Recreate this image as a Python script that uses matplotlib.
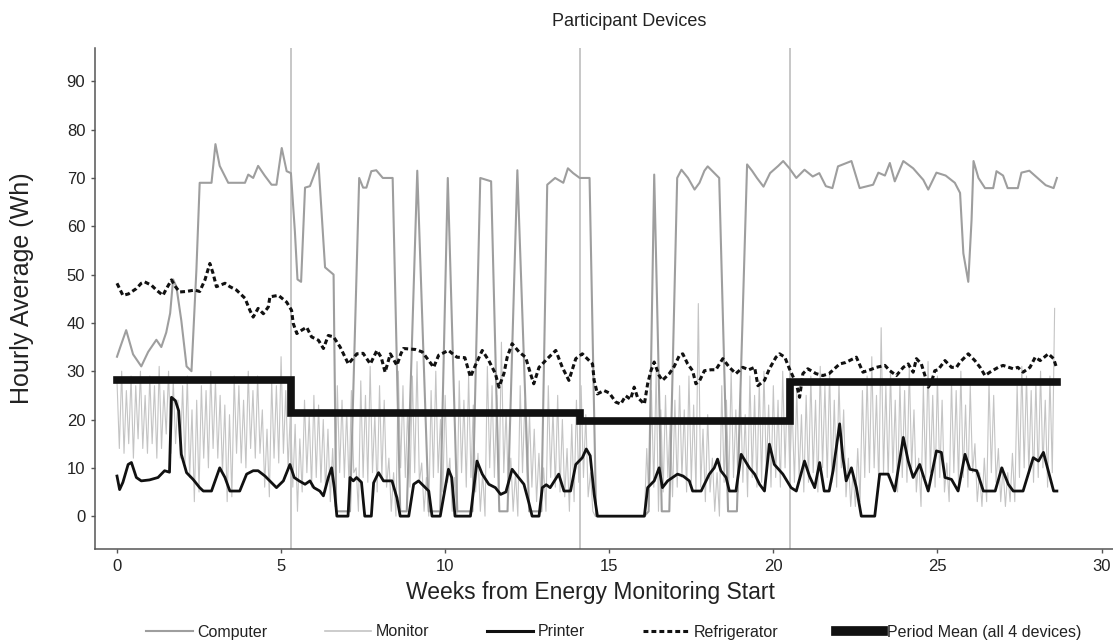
import numpy as np
import matplotlib
matplotlib.use("Agg")
import matplotlib.pyplot as plt
from matplotlib.lines import Line2D

plt.rcParams['font.family'] = ['Liberation Sans', 'DejaVu Sans']

# ---- data (weeks from start, hourly average Wh) ----
computer_weeks = [0.00, 0.10, 0.28, 0.49, 0.74, 0.95, 1.20, 1.35, 1.50, 1.62, 1.71, 1.81, 1.96, 2.12, 2.27,
                  2.42, 2.52, 2.88, 3.00, 3.13, 3.39, 3.90, 4.00, 4.15, 4.30, 4.50, 4.71, 4.86, 5.02, 5.17,
                  5.30, 5.42, 5.50, 5.61, 5.73, 5.88, 6.14, 6.34, 6.60, 6.68, 7.10, 7.38, 7.50, 7.60, 7.75,
                  7.90, 8.10, 8.40, 8.63, 8.83, 9.15, 9.50, 9.85, 10.08, 10.37, 10.83, 11.07, 11.40, 11.65,
                  11.90, 12.20, 12.56, 12.93, 13.11, 13.35, 13.60, 13.74, 13.90, 14.10, 14.40, 14.60, 16.07,
                  16.20, 16.37, 16.60, 16.83, 17.07, 17.20, 17.40, 17.60, 17.75, 17.90, 18.00, 18.35, 18.62,
                  18.89, 19.20, 19.35, 19.50, 19.70, 19.90, 20.15, 20.30, 20.49, 20.70, 20.95, 21.20, 21.40,
                  21.60, 21.80, 21.97, 22.38, 22.63, 23.04, 23.20, 23.40, 23.55, 23.70, 23.96, 24.26, 24.57,
                  24.72, 24.97, 25.25, 25.53, 25.69, 25.79, 25.94, 26.04, 26.10, 26.25, 26.45, 26.70, 26.80,
                  27.00, 27.14, 27.45, 27.56, 27.80, 28.05, 28.30, 28.54, 28.64]
computer_vals = [33, 35, 38.5, 33.5, 31, 34, 36.5, 35, 38, 42, 49, 47.5, 40.5, 31, 30,
                 51, 69, 69, 77, 72.5, 69, 69, 70.7, 70, 72.5, 70.5, 68.6, 68.6, 76.2, 71.4,
                 71, 59, 49, 48.5, 68, 68.3, 73, 51.5, 50, 1, 1, 70, 68, 68, 71.4,
                 71.6, 70, 70, 1, 1, 71.5, 1, 1, 70, 1, 1, 70, 69.3, 1,
                 1, 71.6, 1, 1, 68.6, 70, 69, 72, 71, 70, 70, 0, 0,
                 1, 70.7, 1, 1, 70, 71.7, 70, 67.6, 69, 71.5, 72.4, 70, 1,
                 1, 72.8, 71.5, 70, 68.2, 71, 72.5, 73.5, 72, 70, 71.7, 70.3, 71,
                 68.3, 67.9, 72.4, 73.5, 67.9, 68.6, 71.1, 70.5, 73.1, 69.3, 73.5, 72, 69.6,
                 67.6, 71.1, 70.5, 69, 66.9, 54.4, 48.5, 61.3, 73.5, 70, 67.9, 67.9, 71.4,
                 70.5, 67.9, 67.9, 71.1, 71.5, 70, 68.5, 67.9, 70]

# monitor: two readings per day, one row per week
monitor_rows = [
    [28, 14, 30, 13, 26, 15, 29, 12, 27, 16, 30, 14, 25, 13],
    [29, 15, 27, 12, 31, 14, 26, 17, 30, 13, 28, 15, 24, 12],
    [27, 11, 29, 8, 22, 3, 24, 5, 27, 12, 26, 10, 30, 14],
    [28, 12, 25, 9, 23, 3, 21, 4, 29, 13, 27, 11, 24, 10],
    [30, 14, 26, 12, 29, 13, 22, 6, 18, 4, 28, 12, 27, 11],
    [33, 13, 26, 10, 22, 6, 19, 1, 16, 5, 24, 9, 21, 6],
    [25, 8, 23, 7, 20, 5, 18, 3, 14, 2, 27, 9, 24, 8],
    [22, 6, 26, 9, 10, 1, 28, 8, 25, 7, 31, 9, 21, 5],
    [27, 8, 24, 6, 12, 1, 9, 0, 30, 10, 27, 8, 22, 6],
    [29, 9, 32, 7, 11, 1, 8, 0, 26, 8, 30, 9, 20, 5],
    [25, 7, 12, 1, 8, 0, 28, 9, 24, 6, 29, 8, 23, 5],
    [13, 1, 9, 0, 31, 10, 27, 8, 25, 6, 36, 9, 22, 4],
    [12, 1, 9, 0, 27, 9, 24, 7, 21, 6, 18, 3, 13, 2],
    [10, 1, 27, 8, 22, 6, 25, 5, 20, 4, 14, 1, 19, 3],
    [24, 7, 27, 8, 21, 4, 9, 1, 0, 0, 0, 0, 0, 0],
    [0, 0, 0, 0, 0, 0, 0, 0, 0, 0, 0, 0, 0, 0],
    [0, 0, 14, 2, 26, 6, 30, 1, 22, 5, 25, 8, 20, 4],
    [24, 6, 27, 8, 22, 5, 29, 7, 23, 5, 44, 6, 18, 3],
    [21, 5, 12, 1, 9, 0, 27, 7, 24, 6, 30, 8, 22, 5],
    [26, 7, 21, 4, 29, 8, 25, 6, 28, 7, 30, 9, 23, 6],
    [27, 8, 24, 6, 30, 10, 28, 9, 23, 7, 26, 8, 21, 5],
    [25, 7, 29, 9, 24, 5, 31, 10, 27, 8, 30, 7, 24, 6],
    [28, 10, 22, 4, 12, 2, 9, 2, 14, 3, 26, 8, 29, 9],
    [33, 10, 25, 6, 39, 9, 27, 8, 30, 9, 24, 5, 28, 8],
    [26, 7, 31, 10, 22, 5, 12, 2, 27, 8, 32, 9, 25, 6],
    [29, 8, 24, 5, 11, 3, 28, 9, 26, 7, 30, 8, 23, 6],
    [27, 9, 15, 3, 9, 2, 12, 3, 28, 9, 25, 7, 14, 3],
    [10, 2, 9, 3, 13, 3, 27, 8, 31, 10, 29, 9, 26, 7],
    [28, 8, 30, 10, 24, 6, 29, 9, 43],
]

printer_weeks = [0.00, 0.08, 0.18, 0.34, 0.44, 0.59, 0.74, 0.99, 1.25, 1.45, 1.60, 1.66, 1.78, 1.88, 1.96,
                 2.12, 2.32, 2.52, 2.63, 2.88, 3.13, 3.29, 3.44, 3.74, 3.95, 4.15, 4.30, 4.51, 4.76, 4.86,
                 5.07, 5.27, 5.40, 5.55, 5.73, 5.88, 6.00, 6.18, 6.29, 6.44, 6.54, 6.62, 6.70, 7.04, 7.10,
                 7.20, 7.30, 7.45, 7.55, 7.75, 7.82, 7.97, 8.12, 8.38, 8.53, 8.63, 8.89, 9.04, 9.19, 9.50,
                 9.60, 9.85, 10.00, 10.10, 10.20, 10.30, 10.77, 10.97, 11.13, 11.33, 11.53, 11.69, 11.85,
                 12.04, 12.20, 12.40, 12.55, 12.65, 12.86, 12.96, 13.08, 13.20, 13.46, 13.62, 13.82, 13.98,
                 14.18, 14.30, 14.42, 14.54, 14.64, 16.07, 16.17, 16.37, 16.52, 16.62, 16.78, 17.08, 17.25,
                 17.44, 17.54, 17.80, 18.05, 18.20, 18.30, 18.40, 18.56, 18.66, 18.86, 19.02, 19.27, 19.43,
                 19.58, 19.73, 19.88, 20.03, 20.29, 20.54, 20.70, 20.95, 21.10, 21.26, 21.41, 21.55, 21.70,
                 21.82, 22.02, 22.12, 22.22, 22.38, 22.53, 22.68, 23.09, 23.24, 23.50, 23.70, 23.96, 24.11,
                 24.26, 24.46, 24.72, 24.97, 25.12, 25.23, 25.43, 25.63, 25.84, 25.99, 26.20, 26.40, 26.76,
                 26.96, 27.16, 27.31, 27.61, 27.92, 28.08, 28.23, 28.54, 28.64]
printer_vals = [8.3, 5.5, 7, 10.7, 11.1, 8, 7.3, 7.5, 8, 9.4, 9.1, 24.6, 23.9, 21.8, 12.8,
                9, 7.6, 5.9, 5.2, 5.2, 10, 8, 5.2, 5.2, 8.7, 9.4, 9.4, 8.3, 6.6, 5.9,
                7.3, 10.7, 8, 7.3, 6.6, 7.3, 5.9, 5.2, 4.2, 8, 10, 5.9, 0, 0, 8,
                7.3, 8, 7, 0, 0, 6.9, 9, 7.3, 7.3, 3.8, 0, 0, 6.6, 7.3, 5.2,
                0, 0, 5.9, 9.7, 8, 0, 0, 11.4, 8.7, 6.6, 5.9, 4.5, 5,
                9.7, 8.3, 6.6, 2.8, 0, 0, 5.9, 6.5, 5.9, 8.7, 5.2, 5.2, 10.7,
                12.1, 13.9, 12.5, 4.5, 0, 0, 5.9, 7.3, 10, 5.9, 7.3, 8.7, 8.3,
                7.3, 5.2, 5.2, 8.7, 10, 11.8, 9.4, 8, 5.2, 5.2, 12.8, 10, 8.7,
                6.6, 5.2, 14.9, 10.7, 8.7, 5.9, 5.2, 11.4, 8.3, 5.9, 11.1, 5.2, 5.2,
                9.4, 19.1, 12.1, 7.3, 10, 5.9, 0, 0, 8.7, 8.7, 5.2, 16.3, 11.4,
                8, 10.7, 5.2, 13.5, 13.2, 8, 7.6, 5.2, 12.8, 9.7, 9.4, 5.2, 5.2,
                10, 6.6, 5.2, 5.2, 12.1, 11.4, 13.2, 5.2, 5.2]

fridge_weeks = [0.00, 0.18, 0.35, 0.59, 0.74, 0.84, 1.05, 1.20, 1.40, 1.50, 1.66, 1.78, 1.91, 2.10, 2.37,
                2.52, 2.68, 2.83, 2.93, 3.03, 3.29, 3.44, 3.64, 3.90, 4.05, 4.15, 4.30, 4.46, 4.61, 4.66,
                4.92, 5.17, 5.32, 5.37, 5.48, 5.63, 5.78, 5.93, 6.14, 6.29, 6.44, 6.60, 6.80, 7.00, 7.05,
                7.31, 7.50, 7.72, 7.92, 8.05, 8.17, 8.33, 8.53, 8.65, 8.73, 9.09, 9.30, 9.50, 9.65, 9.80,
                10.10, 10.36, 10.60, 10.77, 10.92, 11.13, 11.33, 11.53, 11.64, 11.79, 11.89, 12.04, 12.25,
                12.45, 12.60, 12.70, 12.86, 13.16, 13.37, 13.57, 13.77, 13.98, 14.18, 14.49, 14.54, 14.64,
                14.84, 15.00, 15.20, 15.35, 15.50, 15.65, 15.76, 15.86, 16.07, 16.17, 16.27, 16.37, 16.52,
                16.62, 16.83, 16.98, 17.14, 17.24, 17.39, 17.54, 17.64, 17.75, 17.90, 18.10, 18.25, 18.46,
                18.66, 18.86, 19.07, 19.25, 19.43, 19.53, 19.73, 19.88, 20.08, 20.19, 20.35, 20.49, 20.70,
                20.80, 20.90, 21.05, 21.30, 21.51, 21.70, 22.02, 22.20, 22.53, 22.62, 22.73, 22.95, 23.14,
                23.40, 23.55, 23.75, 23.96, 24.11, 24.26, 24.36, 24.51, 24.62, 24.72, 24.82, 24.92, 25.02,
                25.23, 25.43, 25.58, 25.69, 25.94, 26.14, 26.30, 26.45, 26.60, 26.85, 27.00, 27.31, 27.45,
                27.61, 27.82, 27.98, 28.13, 28.38, 28.54, 28.64]
fridge_vals = [48.2, 45.7, 46, 47.1, 48.2, 48.5, 47.8, 46.8, 45.7, 47, 48.9, 47.5, 46.4, 46.5, 46.8,
               46.5, 48.9, 52.3, 50.2, 47.5, 48.2, 47.5, 46.8, 45.1, 42.6, 41.2, 43, 41.9, 43.3, 45.4,
               45.7, 44.3, 42.6, 39.9, 37.8, 38.5, 39.1, 37.1, 36.4, 34.7, 37.4, 37.1, 35, 32.2, 31.5,
               33.6, 33.7, 31.5, 34.3, 32.9, 29.8, 33.6, 31.2, 33.6, 34.7, 34.5, 34, 32.2, 30.8, 33.3,
               34.3, 32.9, 32.8, 28.8, 31.2, 34.3, 32.2, 29.5, 26.7, 29.5, 32.9, 35.7, 34,
               32.9, 29.5, 27.4, 30.8, 32.9, 34.3, 30.8, 28.1, 32.6, 33.6, 31.5, 28.1, 25.3,
               26, 25.5, 23.6, 23.2, 24.9, 24.2, 26.7, 24.6, 23.2, 27.4, 30.1, 31.9, 29.1,
               28.1, 29.5, 31, 33.3, 33.6, 31.5, 30.1, 27.4, 28, 30.1, 30.3, 30.3, 32.6,
               30.8, 29.5, 30.8, 30.3, 30.8, 27, 28.1, 30.5, 32.9, 33.6, 32.9, 30.5, 27.4,
               24.6, 29.5, 30.5, 29.5, 29.1, 29.5, 31.5, 31.8, 32.9, 31.5, 29.8, 30.3, 30.8,
               31.2, 30.1, 29.1, 30.8, 31.5, 29.8, 32.6, 31.5, 29.1, 26.7, 27.8, 30.1, 30.3,
               32.2, 30.8, 30.8, 31.9, 33.6, 32.2, 30.8, 29.1, 29.8, 30.8, 31.2, 30.5, 30.8,
               29.8, 30.8, 32.9, 32.2, 33.6, 32.6, 30.5]

period_bounds = [0, 5.3, 14.1, 20.5, 28.65]
period_means = [28.2, 21.4, 19.7, 27.8]

legend_labels = ['Computer', 'Monitor', 'Printer', 'Refrigerator', 'Period Mean (all 4 devices)']

# ---- figure ----
fig = plt.figure(figsize=(11.13, 6.4), dpi=100)
ax = fig.add_axes([95 / 1113, 91 / 640, 1018 / 1113, 501 / 640])

for b in period_bounds[1:-1]:
    ax.axvline(b, color='#b8b8b8', lw=1.1, zorder=1)

monitor_vals = np.concatenate([np.array(r, dtype=float) for r in monitor_rows])
monitor_weeks = np.arange(len(monitor_vals)) / 14.0

fridge_dash = (0, (1.6, 1.0))

ax.plot(monitor_weeks, monitor_vals, color='#c4c4c4', lw=0.8, zorder=2)
ax.plot(computer_weeks, computer_vals, color='#9e9e9e', lw=1.5, zorder=3)
ax.plot(printer_weeks, printer_vals, color='#111111', lw=2.0, zorder=4)
ax.plot(fridge_weeks, fridge_vals, color='#111111', lw=2.2, ls=fridge_dash, zorder=4)

mean_y = period_means + [period_means[-1]]
ax.step(period_bounds, mean_y, where='post', color='#111111', lw=5.5, zorder=5,
        solid_joinstyle='miter')

ax.set_xlim(-0.67, 30.35)
ax.set_ylim(-6.8, 96.9)
ax.set_xticks(range(0, 31, 5))
ax.set_yticks(range(0, 91, 10))

for side in ['top', 'right']:
    ax.spines[side].set_visible(False)
for side in ['left', 'bottom']:
    ax.spines[side].set_color('#555555')
    ax.spines[side].set_linewidth(1.1)
ax.tick_params(direction='out', length=3, width=1.0, color='#555555',
               labelsize=12, labelcolor='#222222', pad=4)

fig.text(629 / 1113, 1 - 22 / 640, 'Participant Devices', ha='center', va='center',
         fontsize=13, color='#222222')
fig.text(590 / 1113, 1 - 593 / 640, 'Weeks from Energy Monitoring Start', ha='center',
         va='center', fontsize=16.5, color='#222222')
fig.text(22 / 1113, 1 - 288 / 640, 'Hourly Average (Wh)', ha='center', va='center',
         rotation=90, fontsize=18, color='#222222')

handles = [
    Line2D([], [], color='#9e9e9e', lw=1.5),
    Line2D([], [], color='#c4c4c4', lw=1.2),
    Line2D([], [], color='#111111', lw=2.2),
    Line2D([], [], color='#111111', lw=2.2, ls=fridge_dash),
    Line2D([], [], color='#111111', lw=7),
]
fig.legend(handles, legend_labels, loc='center', bbox_to_anchor=(614 / 1113, 1 - 632 / 640),
           ncol=5, frameon=False, handlelength=2.9, handletextpad=0.3, columnspacing=3.6,
           prop={'size': 11.5}, labelcolor='#222222')

fig.savefig('out.png', dpi=100, facecolor='white')
